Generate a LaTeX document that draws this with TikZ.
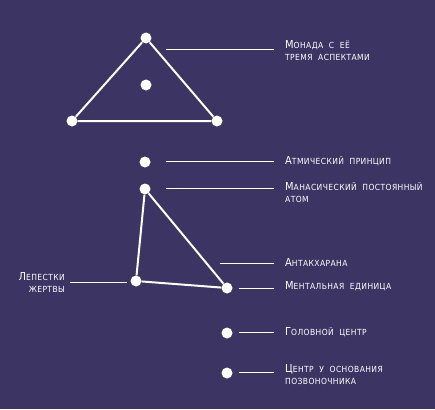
\documentclass[tikz,border=0pt]{standalone}
\usepackage{fontspec}
\setmainfont{DejaVu Sans}
\newfontfamily\lblfont[LetterSpace=5]{DejaVu Sans Condensed}
\definecolor{bgpurple}{RGB}{60,52,99}
\newcommand\firstcap[1]{{\fontsize{11}{13}\selectfont #1}}
\newcommand\restcap[1]{{\fontsize{8.4}{13}\selectfont\MakeUppercase{#1}}}

\begin{document}
\begin{tikzpicture}
   [x=1pt,y=-1pt,
   every node/.style={inner sep=0pt},
   dot/.style={circle,fill=white,minimum size=11pt},
   edge/.style={white,line width=2pt},
   leader/.style={white,line width=0.9pt},
   lbl/.style={text=white,font=\lblfont,align=left,anchor=west}]

   \fill[bgpurple] (0,0) rectangle (435,409);

   % monad triangle
   \node[dot] (apex)  at (146,38)  {};
   \node[dot] (mid)   at (146,85)  {};
   \node[dot] (left)  at (72,121)  {};
   \node[dot] (right) at (217,121) {};
   \draw[edge] (apex) -- (left) -- (right) -- (apex);

   % lower triangle
   \node[dot] (atma)   at (145,162) {};
   \node[dot] (manas)  at (145,189) {};
   \node[dot] (petals) at (136,281) {};
   \node[dot] (unit)   at (227,288) {};
   \draw[edge] (manas) -- (petals) -- (unit) -- (manas);

   \node[dot] (head) at (227,333) {};
   \node[dot] (base) at (227,373) {};

   % labels
   \node[lbl] (lmonad)  at (285,50.5) {\firstcap{М}\restcap{онада\ \ с\ \ её}\\\restcap{тремя\ \ аспектами}};
   \node[lbl] (latma)   at (285,161)  {\firstcap{А}\restcap{тмический\ \ принцип}};
   \node[lbl] (lmanas)  at (285,192.5){\firstcap{М}\restcap{анасический\ \ постоянный}\\\restcap{атом}};
   \node[lbl] (lantah)  at (285,262)  {\firstcap{А}\restcap{нтакхарана}};
   \node[lbl] (lunit)   at (285,286)  {\firstcap{М}\restcap{ентальная\ \ единица}};
   \node[lbl] (lhead)   at (285,332)  {\firstcap{Г}\restcap{оловной\ \ центр}};
   \node[lbl] (lbase)   at (285,374.5){\firstcap{Ц}\restcap{ентр\ \ у\ \ основания}\\\restcap{позвоночника}};
   \node[lbl,anchor=east,align=right] (lpetals) at (65,282)
      {\firstcap{Л}\restcap{епестки}\\\restcap{жертвы}};

   % leader lines
   \coordinate (m1) at (166,49);  \coordinate (m2) at (274,49);
   \coordinate (a1) at (166,161); \coordinate (a2) at (274,161);
   \coordinate (s1) at (166,188); \coordinate (s2) at (274,188);
   \coordinate (k1) at (220,263); \coordinate (k2) at (274,263);
   \coordinate (u1) at (239,288); \coordinate (u2) at (274,288);
   \coordinate (h1) at (239,332); \coordinate (h2) at (274,332);
   \coordinate (b1) at (239,372); \coordinate (b2) at (274,372);
   \coordinate (p1) at (70,282);  \coordinate (p2) at (127,282);

   \draw[leader] (m1) -- (m2);
   \draw[leader] (a1) -- (a2);
   \draw[leader] (s1) -- (s2);
   \draw[leader] (k1) -- (k2);
   \draw[leader] (u1) -- (u2);
   \draw[leader] (h1) -- (h2);
   \draw[leader] (b1) -- (b2);
   \draw[leader] (p1) -- (p2);
\end{tikzpicture}
\end{document}
